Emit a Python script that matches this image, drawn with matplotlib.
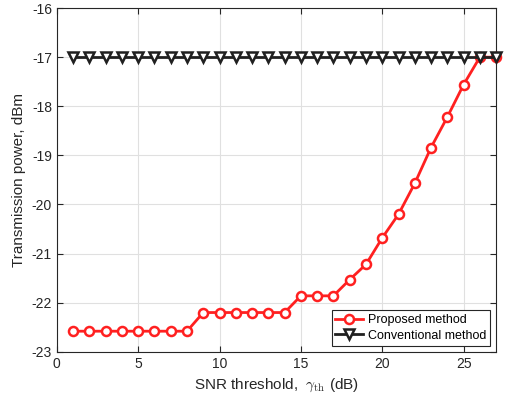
import numpy as np
import matplotlib
matplotlib.use("Agg")
import matplotlib.pyplot as plt

# Data
snr = list(range(1, 28))
proposed = [-22.58] * 8 + [-22.20] * 6 + [-21.86] * 3 + [
    -21.53, -21.22, -20.68, -20.20, -19.57, -18.84, -18.22, -17.56, -17.0, -17.0]
conventional = [-17.0] * 27

plt.rcParams["font.family"] = ["Liberation Sans", "DejaVu Sans"]
plt.rcParams["mathtext.fontset"] = "cm"
plt.rcParams["axes.unicode_minus"] = False

fig = plt.figure(figsize=(5.12, 4.03), dpi=100)
ax = fig.add_axes([0.111, 0.127, 0.858, 0.853])

ax.plot(snr, proposed, color="#ff2020", lw=2, marker="o", ms=6.5,
        mfc="white", mec="#ff2020", mew=1.8, label="Proposed method",
        zorder=3, clip_on=False)
ax.plot(snr, conventional, color="#202020", lw=2, marker="v", ms=6.5,
        mfc="white", mec="#202020", mew=1.8, label="Conventional method",
        zorder=4, clip_on=False)

ax.set_xlim(0, 27)
ax.set_ylim(-23, -16)
ax.set_xticks([0, 5, 10, 15, 20, 25])
ax.set_yticks(np.arange(-23, -15, 1))
ax.grid(True, color="#e0e0e0", lw=0.8)
ax.set_axisbelow(True)

for s in ax.spines.values():
    s.set_color("#262626")
    s.set_linewidth(0.8)
ax.tick_params(direction="in", top=True, right=True, length=4,
               labelsize=10, colors="#262626")

ax.set_xlabel(r"SNR threshold,  $\gamma_{\rm th}$ (dB)", fontsize=11, color="#262626")
ax.set_ylabel("Transmission power, dBm", fontsize=11, color="#262626")

leg = ax.legend(loc="lower right", fontsize=9, fancybox=False, framealpha=1,
                edgecolor="#262626", borderaxespad=0.5, handlelength=2.2,
                handletextpad=0.4, borderpad=0.3, labelspacing=0.3)
leg.get_frame().set_linewidth(0.8)

fig.savefig("out.png", dpi=100)
